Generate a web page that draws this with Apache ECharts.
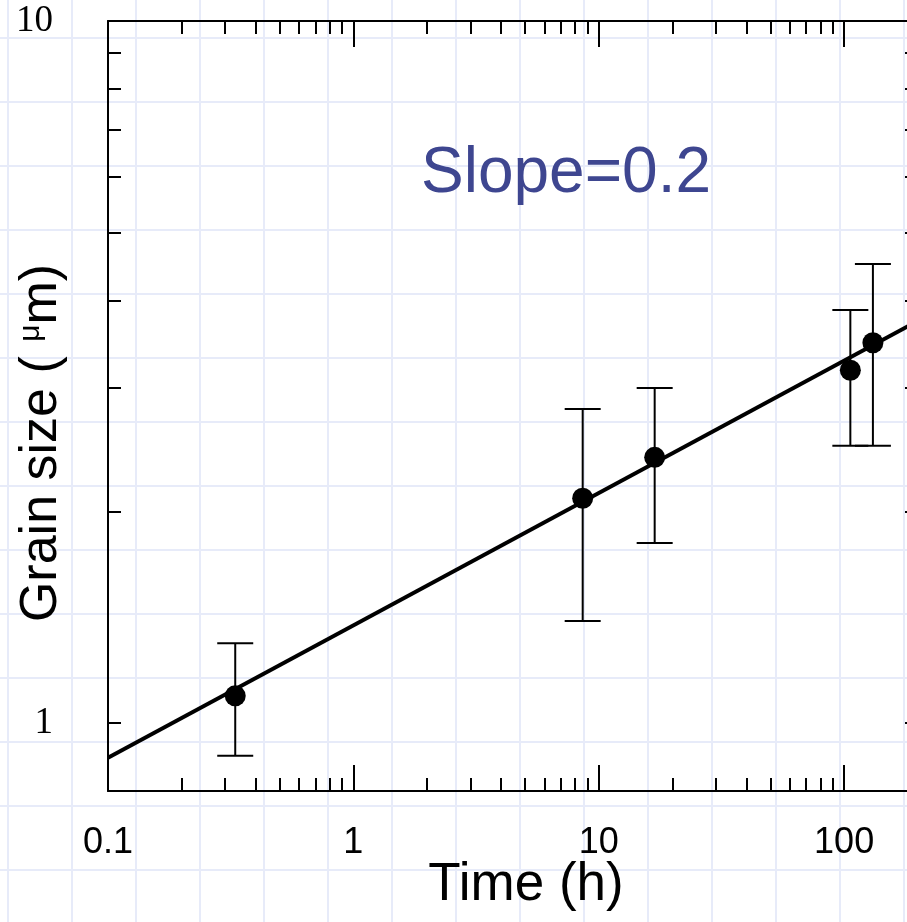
<!DOCTYPE html>
<html>
<head>
<meta charset="utf-8">
<script src="https://cdn.jsdelivr.net/npm/echarts@6/dist/echarts.min.js"></script>
<style>
  html, body { margin: 0; padding: 0; background: #fff; }
  #main {
    width: 907px; height: 922px;
    background-color: #fff;
    background-image:
      linear-gradient(to right, #e7ebf9 2px, transparent 2px),
      linear-gradient(to bottom, #e7ebf9 2px, transparent 2px);
    background-size: 64px 64px;
    background-position: 7px 37px;
  }
</style>
</head>
<body>
<div id="main"></div>
<script>
// measured points (time in h, grain size in um)
var time = [0.33, 8.6, 16.9, 106, 131];
var grainSize = [1.093, 2.09, 2.39, 3.18, 3.48];
var errLow = [0.898, 1.397, 1.805, 2.483, 2.483];
var errHigh = [1.299, 2.80, 3.0, 3.876, 4.506];

// fitted line end points
var fitTime = [0.1, 200];
var fitSize = [0.892, 3.74];

// ticks
var xMinorTicks = [0.2, 0.3, 0.4, 0.5, 0.6, 0.7, 0.8, 0.9, 2, 3, 4, 5, 6, 7, 8, 9, 20, 30, 40, 50, 60, 70, 80, 90];
var xMajorTicks = [1, 10, 100];
var xLabels = [0.1, 1, 10, 100];
var yTicks = [1, 2, 3, 4, 5, 6, 7, 8, 9];
var yLabels = [1, 10];

var chart = echarts.init(document.getElementById('main'), null, { renderer: 'canvas' });

var pointData = time.map(function (t, i) { return [t, grainSize[i]]; });
var errData = time.map(function (t, i) { return [t, errLow[i], errHigh[i]]; });
var fitData = fitTime.map(function (t, i) { return [t, fitSize[i]]; });

function xAxisCfg(position, ticks, len, showLine, labels) {
  return {
    type: 'log', logBase: 10, min: 0.1, max: 200, gridIndex: 0,
    position: position,
    axisLine: { show: showLine, lineStyle: { color: '#000', width: 2 } },
    axisTick: { show: true, inside: true, length: len, customValues: ticks, lineStyle: { color: '#000', width: 2 } },
    splitLine: { show: false },
    minorTick: { show: false },
    axisLabel: labels ? {
      show: true, customValues: labels, margin: 34,
      fontFamily: 'Liberation Sans', fontSize: 36, color: '#000',
      formatter: function (v) { return String(v); }
    } : { show: false }
  };
}

function yAxisCfg(position, showLabels) {
  return {
    type: 'log', logBase: 10, min: 0.8, max: 10, gridIndex: 0,
    position: position,
    axisLine: { show: true, lineStyle: { color: '#000', width: 2 } },
    axisTick: { show: true, inside: true, length: 13, customValues: yTicks, lineStyle: { color: '#000', width: 2 } },
    splitLine: { show: false },
    minorTick: { show: false },
    axisLabel: showLabels ? {
      show: true, customValues: yLabels, margin: 55, padding: [7, 0, 0, 0],
      fontFamily: 'Liberation Serif', fontSize: 37, color: '#000',
      formatter: function (v) { return String(v); }
    } : { show: false }
  };
}

var xMain = xAxisCfg('bottom', xMinorTicks, 13, true, xLabels);
xMain.name = 'Time (h)';
xMain.nameLocation = 'middle';
xMain.nameGap = 68;
xMain.nameMoveOverlap = false;
xMain.nameTextStyle = { fontFamily: 'Liberation Sans', fontSize: 53, color: '#000', padding: [0, 0, 0, 26] };

var yMain = yAxisCfg('left', true);
yMain.name = 'Grain size ( {mu|μ}m)';
yMain.nameLocation = 'middle';
yMain.nameGap = 40;
yMain.nameMoveOverlap = false;
yMain.nameTextStyle = {
  fontFamily: 'Liberation Sans', fontSize: 52, color: '#000', padding: [0, 74, 0, 0],
  rich: { mu: { fontFamily: 'Liberation Sans', fontSize: 30, color: '#000', verticalAlign: 'top', padding: [0, 0, 18, 0] } }
};

chart.setOption({
  animation: false,
  grid: { left: 108, top: 21, right: -11, bottom: 131, outerBoundsMode: 'none' },
  xAxis: [
    xMain,
    xAxisCfg('bottom', xMajorTicks, 26, false, null),
    xAxisCfg('top', xMinorTicks, 13, true, null),
    xAxisCfg('top', xMajorTicks, 26, false, null)
  ],
  yAxis: [
    yMain,
    yAxisCfg('right', false)
  ],
  title: {
    text: 'Slope=0.2', left: 421, top: 142, padding: 0,
    textStyle: { fontFamily: 'Liberation Sans', fontSize: 64, fontWeight: 'normal', color: '#3e4690' }
  },
  series: [
    {
      name: 'fit', type: 'line', data: fitData, xAxisIndex: 0, yAxisIndex: 0,
      showSymbol: false, symbol: 'none',
      lineStyle: { color: '#000', width: 4 }, z: 2
    },
    {
      name: 'error', type: 'custom', data: errData, xAxisIndex: 0, yAxisIndex: 0,
      encode: { x: 0, y: [1, 2] },
      renderItem: function (params, api) {
        var t = api.value(0);
        var lo = api.coord([t, api.value(1)]);
        var hi = api.coord([t, api.value(2)]);
        var style = { stroke: '#000', lineWidth: 2 };
        return {
          type: 'group',
          children: [
            { type: 'line', shape: { x1: lo[0], y1: lo[1], x2: hi[0], y2: hi[1] }, style: style },
            { type: 'line', shape: { x1: lo[0] - 18, y1: lo[1], x2: lo[0] + 18, y2: lo[1] }, style: style },
            { type: 'line', shape: { x1: hi[0] - 18, y1: hi[1], x2: hi[0] + 18, y2: hi[1] }, style: style }
          ]
        };
      },
      z: 3
    },
    {
      name: 'data', type: 'scatter', data: pointData, xAxisIndex: 0, yAxisIndex: 0,
      symbol: 'circle', symbolSize: 21,
      itemStyle: { color: '#000', opacity: 1 }, z: 4
    }
  ]
});
</script>
</body>
</html>
